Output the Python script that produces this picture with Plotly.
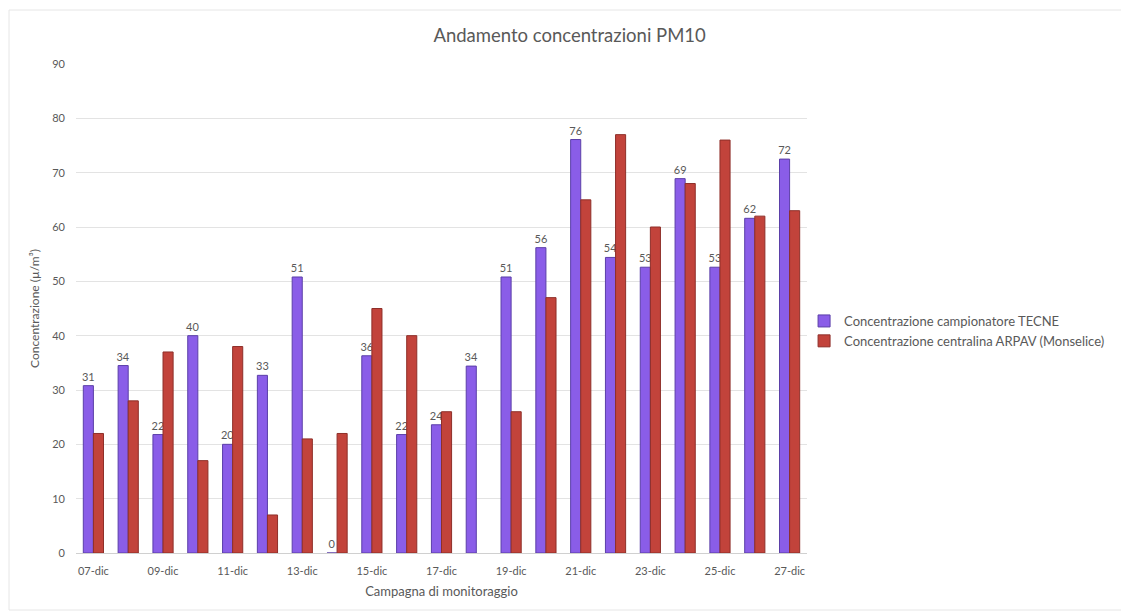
import plotly.graph_objects as go

days = ["07-dic", "08-dic", "09-dic", "10-dic", "11-dic", "12-dic", "13-dic", "14-dic",
        "15-dic", "16-dic", "17-dic", "18-dic", "19-dic", "20-dic", "21-dic", "22-dic",
        "23-dic", "24-dic", "25-dic", "26-dic", "27-dic"]
tecne = [30.8, 34.5, 21.8, 40.0, 20.0, 32.7, 50.8, 0.0, 36.3, 21.8, 23.6, 34.4,
         50.8, 56.2, 76.1, 54.4, 52.6, 68.9, 52.6, 61.6, 72.5]
arpav = [22, 28, 37, 17, 38, 7, 21, 22, 45, 40, 26, None, 26, 47, 65, 77, 60, 68, 76, 62, 63]
tick_labels = days[::2]

FONT = "Lato, 'Open Sans', sans-serif"
GREY = "#595959"

W, H = 1121, 607
ML, MR, MT, MB = 68, 322, 56, 62

fig = go.Figure()
fig.add_trace(go.Bar(
    x=days, y=tecne, name="Concentrazione campionatore TECNE", legendgroup="a",
    marker=dict(color="#8a5de8", line=dict(color="#5b3fa8", width=1)),
    text=[f"{v:.0f}" for v in tecne], textposition="outside", constraintext="none",
    textfont=dict(size=11, color=GREY, family=FONT),
    outsidetextfont=dict(size=11, color=GREY, family=FONT), cliponaxis=False,
))
fig.add_trace(go.Bar(
    x=days, y=arpav, name="Concentrazione centralina ARPAV (Monselice)", legendgroup="b",
    marker=dict(color="#c2433b", line=dict(color="#8e2f29", width=1)),
))

fig.update_layout(
    width=W, height=H,
    margin=dict(l=ML, r=MR, t=MT, b=MB),
    paper_bgcolor="white", plot_bgcolor="white",
    barmode="group", bargap=0.42, bargroupgap=0,
    font=dict(family=FONT, color=GREY, size=11),
    title=dict(text="Andamento concentrazioni PM10", x=0.501, xanchor="center",
               y=0.955, yanchor="middle", font=dict(size=18.5, color=GREY, family=FONT)),
    legend=dict(x=0.996, xanchor="left", y=0.454, yanchor="middle",
                bgcolor="rgba(0,0,0,0)",
                font=dict(size=13, color=GREY, family=FONT), itemwidth=30,
                tracegroupgap=0),
    showlegend=True,
    xaxis=dict(
        type="category", categoryorder="array", categoryarray=days,
        tickmode="array", tickvals=tick_labels, ticktext=tick_labels,
        ticks="", showgrid=False, showline=False, automargin=False,
        ticklabelstandoff=10,
        tickfont=dict(size=11, color=GREY),
        title=dict(text="Campagna di monitoraggio", font=dict(size=13, color=GREY), standoff=10),
    ),
    yaxis=dict(
        range=[0, 90], dtick=10, showgrid=True, gridcolor="#e3e3e3", gridwidth=1,
        zeroline=True, zerolinecolor="#d0d0d0", zerolinewidth=1, ticks="",
        automargin=False, ticklabelstandoff=10,
        tickfont=dict(size=11, color=GREY),
        title=dict(text="Concentrazione (µ/m³)", font=dict(size=12, color=GREY), standoff=10),
    ),
)

# light outer chart border (pixel positions converted to paper coordinates)
pw, ph = W - ML - MR, H - MT - MB
def px_x(p):
    return (p - ML) / pw
def px_y(p):
    return (H - MB - p) / ph
fig.add_shape(type="rect", xref="paper", yref="paper",
              x0=px_x(1), x1=px_x(1117), y0=px_y(602), y1=px_y(2),
              line=dict(color="#e6e6e6", width=1), fillcolor="rgba(0,0,0,0)", layer="below")

fig.write_html("out.html")
